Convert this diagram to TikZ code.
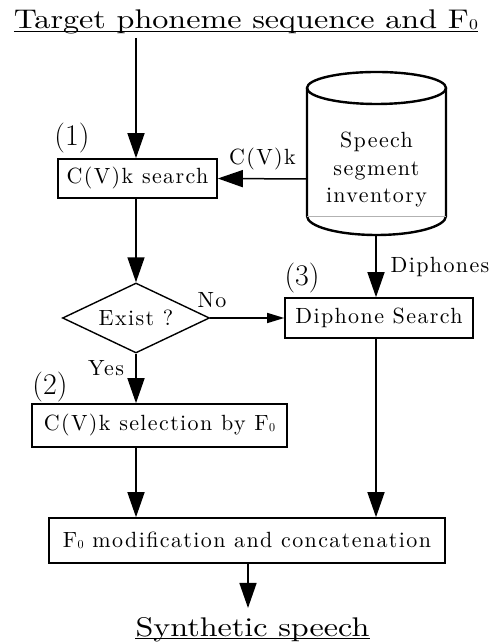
\documentclass[tikz,border=0pt]{standalone}
\usepackage{fontspec}
\usetikzlibrary{arrows.meta,shapes.geometric}
\newfontfamily\spacedfont{lmroman10-regular.otf}[LetterSpace=6.3]
\newfontfamily\widefont{lmroman10-regular.otf}[FakeStretch=1.19]
\newcommand\Fzero{F\kern0.3pt\raisebox{-0.5pt}{\scalebox{0.55}{0}}}
\newcommand\bigtxt{\widefont\fontsize{27}{32}\selectfont}
\newcommand\boxtxt{\spacedfont\fontsize{22}{27.5}\selectfont}
\tikzset{
  proc/.style={draw,line width=1.6pt,inner sep=0pt,font=\boxtxt},
  conn/.style={line width=1.5pt,-{Triangle[width=17pt,length=25pt]}},
  smallconn/.style={line width=1.5pt,-{Triangle[width=10pt,length=17pt]}},
  lbl/.style={inner sep=0pt,font=\boxtxt},
  numlbl/.style={inner sep=0pt,font=\fontsize{30}{34}\selectfont},
  ttl/.style={inner sep=0pt,font=\bigtxt}
}
\begin{document}
\begin{tikzpicture}[x=1pt,y=1pt]
\useasboundingbox (0,0) rectangle (496,644);
% title
\node[ttl,anchor=base] (t) at (246,615) {Target phoneme sequence and \Fzero};
\draw[line width=1pt] ([yshift=-2.5pt]t.base west) -- ([yshift=-2.5pt]t.base east);
\coordinate (in) at (136,606);
% box 1
\node[proc,minimum width=159pt,minimum height=39pt] (b1) at (137.5,465.5) {C(V)k search};
\node[numlbl] (n1) at (72,506) {(1)};
\draw[conn] (in) -- (b1.north -| in);
% cylinder
\draw[line width=2.4pt,fill=white] (307,556) -- (307,428) arc[start angle=180,end angle=360,x radius=69.5,y radius=19] -- (446,556);
\draw[line width=0.6pt,black!30] (307,428) -- (446,428);
\draw[line width=2.4pt] (376.5,556) ellipse[x radius=69.5,y radius=16];
\node[lbl,align=center] (cyl) at (376.5,474) {Speech\\segment\\inventory};
\coordinate (cylw) at (307,465);
\coordinate (cylb) at (376,409);
\draw[conn] (cylw) -- (b1.east) node[lbl,pos=0.5,above=8pt] (lck) {C(V)k};
% diphone
\node[proc,minimum width=188pt,minimum height=40pt] (dp) at (379,326) {Diphone Search};
\node[numlbl] (n3) at (302,366) {(3)};
\draw[conn] (cylb) -- (cylb |- dp.north);
\node[lbl] (ldp) at (440,377) {Diphones};
% diamond
\node[draw,diamond,line width=1.4pt,minimum width=147pt,minimum height=70pt,aspect=2.1,inner sep=0pt,font=\boxtxt] (ex) at (136,326) {Exist ?};
\draw[conn] (b1.south -| ex.north) -- (ex.north);
\draw[smallconn] (ex.east) -- (dp.west);
\node[lbl] (lno) at (212,344) {No};
% box 2
\node[proc,minimum width=255pt,minimum height=43pt] (b2) at (159.5,218.5) {C(V)k selection by \Fzero};
\node[numlbl] (n2) at (50,257) {(2)};
\draw[conn] (ex.south) -- (ex.south |- b2.north);
\node[lbl] (lyes) at (106,276) {Yes};
% final
\node[proc,minimum width=396pt,minimum height=45pt] (fn) at (247,103.5) {\Fzero\ modification and concatenation};
\draw[conn] (ex.south |- b2.south) -- (ex.south |- fn.north);
\draw[conn] (dp.south -| cylb) -- (cylb |- fn.north);
\coordinate (out) at (248,36);
\draw[conn] (fn.south -| out) -- (out);
\node[ttl,anchor=base] (s) at (252.5,8) {Synthetic speech};
\draw[line width=1pt] ([yshift=-2.5pt]s.base west) -- ([yshift=-2.5pt]s.base east);
\end{tikzpicture}
\end{document}
